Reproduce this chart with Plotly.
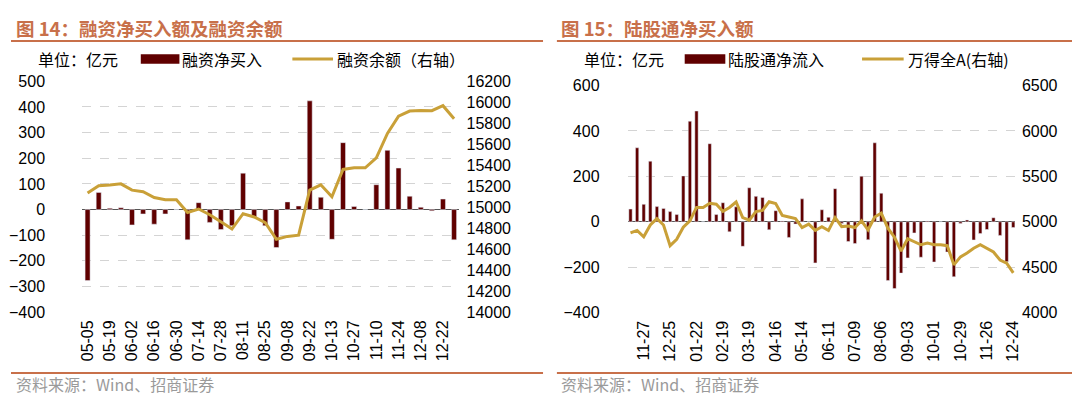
import plotly.graph_objects as go

# ---------------- data: left panel (图14) ----------------
left_dates = ["05-05","05-12","05-19","05-26","06-02","06-09","06-16","06-23","06-30","07-07",
              "07-14","07-21","07-28","08-04","08-11","08-18","08-25","09-01","09-08","09-15",
              "09-22","09-28","10-13","10-20","10-27","11-03","11-10","11-17","11-24","12-01",
              "12-08","12-15","12-22","12-29"]
left_net_buy = [-277, 67, 5, 7, -60, -17, -57, -17, 0, -118, 27, -50, -78, -63, 142, -29, -63,
                -148, 30, 14, 424, 48, -116, 261, 12, 0, 97, 231, 162, 52, 9, -5, 41, -118]
left_balance = [15135, 15205, 15211, 15223, 15163, 15148, 15093, 15072, 15072, 14950, 14983,
                14929, 14862, 14792, 14938, 14907, 14853, 14695, 14722, 14734, 15163, 15214,
                15099, 15360, 15376, 15376, 15470, 15704, 15868, 15917, 15923, 15920, 15968, 15844]
left_ticks = ["05-05","05-19","06-02","06-16","06-30","07-14","07-28","08-11","08-25","09-08",
              "09-22","10-13","10-27","11-10","11-24","12-08","12-22"]

# ---------------- data: right panel (图15) ----------------
right_dates = ["11-13","11-20","11-27","12-04","12-11","12-18","12-25","01-01","01-08","01-15",
               "01-22","01-29","02-05","02-12","02-19","02-26","03-05","03-12","03-19","03-26",
               "04-02","04-09","04-16","04-23","04-30","05-07","05-14","05-21","05-28","06-04",
               "06-11","06-18","06-25","07-02","07-09","07-16","07-23","07-30","08-06","08-13",
               "08-20","08-27","09-03","09-10","09-17","09-24","10-01","10-08","10-15","10-22",
               "10-29","11-05","11-12","11-19","11-26","12-03","12-10","12-17","12-24"]
right_flow = [56, 326, 77, 267, 67, 59, 45, 32, 202, 443, 488, 0, 344, 32, 84, -44, 66, -108,
              150, 112, 107, -35, 49, 4, -69, -10, 101, 0, -181, 53, 20, 146, -7, -87, -96, 201,
              -79, 348, 126, -259, -294, -226, -159, -49, -156, 4, -177, 0, -133, -242, -7, 8,
              -80, -52, -34, 18, -60, -176, -25]
right_index = [4877, 4905, 4835, 4965, 5035, 4965, 4737, 4807, 4940, 5011,
               5158, 5158, 5204, 5193, 5116, 5158, 5218, 5046, 5018, 5112,
               5126, 5221, 5200, 5070, 5053, 5035, 4937, 4975, 4905, 4947,
               4905, 5046, 4947, 4954, 4937, 5011, 4912, 5053, 5095, 4930,
               4830, 4677, 4814, 4782, 4747, 4765, 4747, 4747, 4737, 4526,
               4614, 4656, 4709, 4747, 4709, 4667, 4579, 4544, 4438]
right_ticks = ["11-27","12-25","01-22","02-19","03-19","04-16","05-14","06-11","07-09","08-06",
               "09-03","10-01","10-29","11-26","12-24"]

# ---------------- styling ----------------
W, H = 1080, 394
BAR = "#600000"
GOLD = "#C9A038"
ACCENT = "#C8704A"
GRID = "#D4D4D4"
CJK = "Noto Sans CJK SC"
NUM = "Liberation Sans, Arial"

def px(x):
    return x / W

def py(y):
    return 1 - y / H

fig = go.Figure()

fig.add_trace(go.Bar(x=left_dates, y=left_net_buy, marker_color=BAR, width=0.45,
                     xaxis="x", yaxis="y", name="融资净买入", showlegend=False))
fig.add_trace(go.Scatter(x=left_dates, y=left_balance, mode="lines",
                         line=dict(color=GOLD, width=3), xaxis="x", yaxis="y2",
                         name="融资余额（右轴）", showlegend=False))
fig.add_trace(go.Bar(x=right_dates, y=right_flow, marker_color=BAR, width=0.5,
                     xaxis="x2", yaxis="y3", name="陆股通净流入", showlegend=False))
fig.add_trace(go.Scatter(x=right_dates, y=right_index, mode="lines",
                         line=dict(color=GOLD, width=3), xaxis="x2", yaxis="y4",
                         name="万得全A(右轴)", showlegend=False))

tickfont = dict(family=NUM, size=16, color="#000000")

fig.update_layout(
    width=W, height=H, autosize=False,
    margin=dict(l=0, r=0, t=0, b=0),
    paper_bgcolor="white", plot_bgcolor="white",
    bargap=0.5,
    xaxis=dict(domain=[px(71.7), px(451.7)], anchor="y", type="category",
               categoryorder="array", categoryarray=left_dates,
               range=[-0.5, 33.4], tickmode="array", tickvals=left_ticks,
               tickangle=-90, tickfont=tickfont, showgrid=False, showline=False,
               ticks="", ticklabelstandoff=4),
    yaxis=dict(domain=[py(309.5), py(68.3)], anchor="x", range=[-400, 500], dtick=100,
               tickfont=tickfont, showgrid=True, gridcolor=GRID, griddash="dash",
               gridwidth=1, zeroline=True, zerolinecolor="#555555", zerolinewidth=1,
               showline=False, ticks="", ticklabelstandoff=36, tickformat="d"),
    yaxis2=dict(overlaying="y", anchor="x", side="right", range=[14000, 16200], dtick=200,
                tickfont=tickfont, showgrid=False, zeroline=False, showline=False,
                ticks="", ticklabelstandoff=7, tickformat="d"),
    xaxis2=dict(domain=[px(622.3), px(1013.3)], anchor="y3", type="category",
                categoryorder="array", categoryarray=right_dates,
                range=[-0.45, 58.25], tickmode="array", tickvals=right_ticks,
                tickangle=-90, tickfont=tickfont, showgrid=False, showline=False,
                ticks="", ticklabelstandoff=4),
    yaxis3=dict(domain=[py(310), py(72.7)], anchor="x2", range=[-400, 600], dtick=200,
                tickfont=tickfont, showgrid=True, gridcolor=GRID, griddash="dash",
                gridwidth=1, zeroline=True, zerolinecolor="#555555", zerolinewidth=1,
                showline=False, ticks="", ticklabelstandoff=27, tickformat="d"),
    yaxis4=dict(overlaying="y3", anchor="x2", side="right", range=[4000, 6500], dtick=500,
                tickfont=tickfont, showgrid=False, zeroline=False, showline=False,
                ticks="", ticklabelstandoff=6, tickformat="d"),
)

shapes = []
annotations = []

def hline(x0, x1, y, color, width):
    shapes.append(dict(type="line", xref="paper", yref="paper", x0=px(x0), x1=px(x1),
                       y0=py(y), y1=py(y), line=dict(color=color, width=width)))

def text(x, y, s, size, color, bold=False, family=CJK):
    if bold:
        s = "<b>" + s + "</b>"
    annotations.append(dict(xref="paper", yref="paper", x=px(x), y=py(y), text=s,
                            showarrow=False, xanchor="left", yanchor="middle",
                            font=dict(family=family, size=size, color=color)))

# titles and rules
text(3, 13, "图 14：融资净买入额及融资余额", 18.5, ACCENT, bold=True)
text(553, 13, "图 15：陆股通净买入额", 18.5, ACCENT, bold=True)
hline(0, 537, 26, ACCENT, 2)
hline(551, 1080, 26, ACCENT, 2)
hline(0, 537, 373, ACCENT, 2)
hline(551, 1080, 373, ACCENT, 2)
text(3, 385, "资料来源：Wind、招商证券", 16, "#9A9A9A")
text(553, 385, "资料来源：Wind、招商证券", 16, "#9A9A9A")

# legends (left)
text(25, 45, "单位：亿元", 16, "#000000")
shapes.append(dict(type="rect", xref="paper", yref="paper", x0=px(131), x1=px(170),
                   y0=py(50), y1=py(40), fillcolor=BAR, line=dict(width=0)))
text(171, 45, "融资净买入", 16, "#000000")
hline(284, 325, 45, GOLD, 3)
text(327, 45, "融资余额（右轴）", 16, "#000000")

# legends (right)
text(576, 45, "单位：亿元", 16, "#000000")
shapes.append(dict(type="rect", xref="paper", yref="paper", x0=px(680), x1=px(721),
                   y0=py(50), y1=py(40), fillcolor=BAR, line=dict(width=0)))
text(722, 45, "陆股通净流入", 16, "#000000")
hline(859, 901, 45, GOLD, 3)
text(903, 45, "万得全A(右轴)", 16, "#000000")

fig.update_layout(shapes=shapes, annotations=annotations)

fig.write_html("out.html")
